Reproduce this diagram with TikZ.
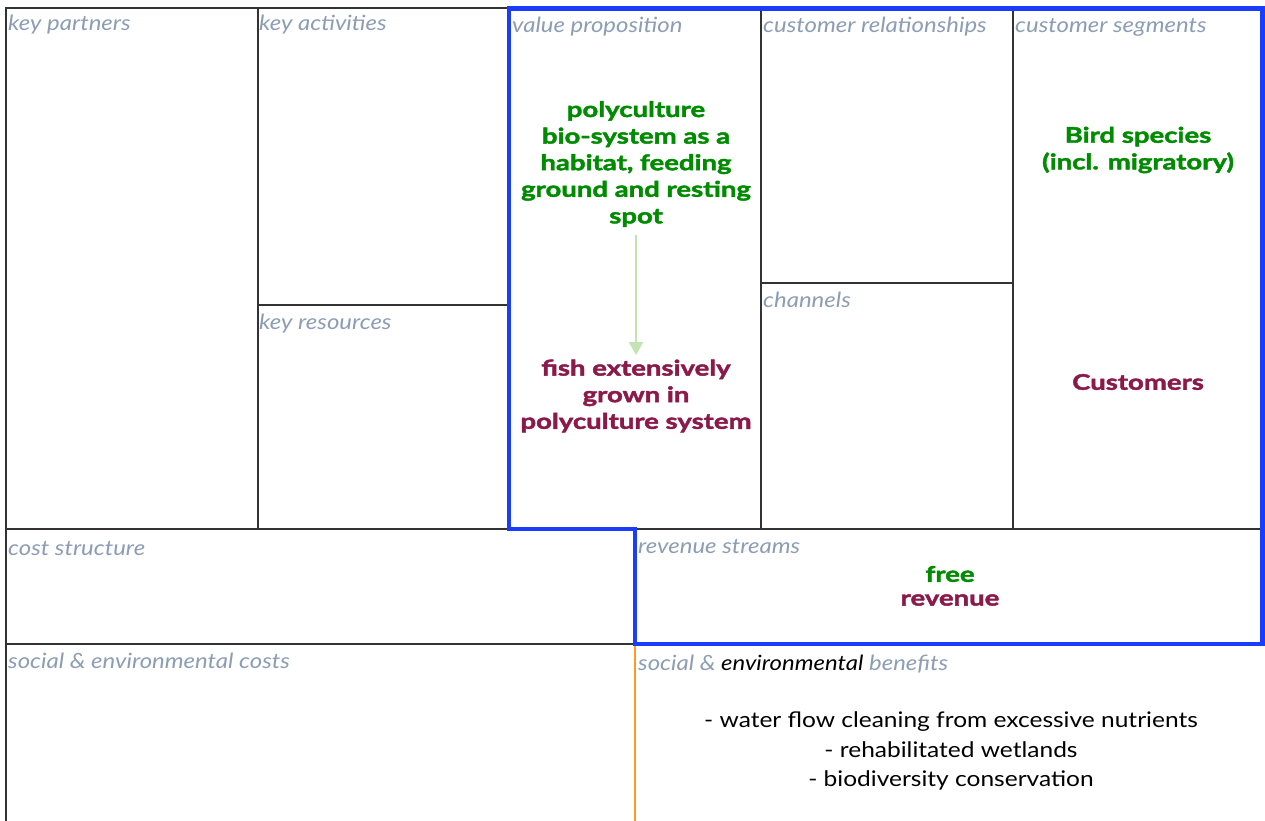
\documentclass[tikz,border=0pt]{standalone}
\usepackage{fontspec}
\setmainfont{Lato}[FakeStretch=1.14]
\newfontfamily\heavyfont{Lato}[FakeStretch=1.28, BoldFeatures={FakeBold=2}]
\usetikzlibrary{arrows.meta}
\definecolor{labelgray}{HTML}{8C9DB5}
\definecolor{vpgreen}{HTML}{008C00}
\definecolor{maroon}{HTML}{8B1A4B}
\definecolor{frameblue}{HTML}{1A3CFF}
\definecolor{gridline}{HTML}{333333}
\definecolor{arrowgreen}{HTML}{C5E3B2}
\definecolor{benefitorange}{HTML}{FF9A1A}
\tikzset{
  grid/.style={draw=gridline, line width=1.2pt},
  cell/.style={anchor=base west, inner sep=0pt, text=labelgray,
    font=\fontsize{21}{25}\selectfont\itshape},
  boldtext/.style={align=center, inner sep=0pt,
    font=\heavyfont\fontsize{21.5}{26.6}\selectfont\bfseries},
  plaintext/.style={align=center, inner sep=0pt,
    font=\fontsize{21.5}{29.5}\selectfont},
}
\begin{document}
\begin{tikzpicture}[x=1pt,y=-1pt]
\useasboundingbox (0,0) rectangle (1265,821);
\fill[white] (0,0) rectangle (1265,821);

% canvas grid
\draw[grid] (509,8) -- (6,8) -- (6,821);
\draw[grid] (258,8) -- (258,529);
\draw[grid] (258,305) -- (509,305);
\draw[grid] (761,8) -- (761,529);
\draw[grid] (761,283) -- (1013,283);
\draw[grid] (1013,8) -- (1013,529);
\draw[grid] (6,529) -- (1263,529);
\draw[grid] (6,644) -- (635,644);

% outline of value proposition, segments and revenue
\draw[frameblue, line width=4.5pt, line join=miter]
  (509,529) -- (509,8.5) -- (1262.5,8.5) -- (1262.5,644) -- (635,644) -- (635,529) -- cycle;

% benefits divider
\draw[benefitorange, line width=2pt] (635,646) -- (635,821);

% block titles
\node[cell] (kp)  at (8,31)   {key partners};
\node[cell] (ka)  at (259,31) {key activities};
\node[cell] (vpl) at (512,33) {value proposition};
\node[cell] (crl) at (763,33) {customer relationships};
\node[cell] (csl) at (1015,33) {customer segments};
\node[cell] (kr)  at (259,329) {key resources};
\node[cell] (ch)  at (763,307) {channels};
\node[cell] (cs)  at (8,555)  {cost structure};
\node[cell] (rs)  at (638,553) {revenue streams};
\node[cell] (sec) at (8,668)  {social \& environmental costs};
\node[cell] (seb) at (638,670) {social \& {\color{black}environmental} benefits};

% value proposition content
\node[boldtext, text=vpgreen] (habitat) at (636,164)
  {polyculture\\bio-system as a\\habitat, feeding\\ground and resting\\spot};
\node[boldtext, text=maroon] (fish) at (636,396)
  {fish extensively\\grown in\\polyculture system};
\draw[arrowgreen, line width=2.5pt, -{Triangle[length=13pt,width=14pt]}]
  (habitat.south) ++(0,8) coordinate (a0) (a0) -- (fish.north |- 0,355) coordinate (a1);

% customer segments content
\node[boldtext, text=vpgreen] (birds) at (1138,150)
  {Bird species\\(incl. migratory)};
\node[boldtext, text=maroon] (cust) at (1138,382) {Customers};

% revenue streams content
\node[boldtext, text=vpgreen] (free) at (950,574) {free};
\node[boldtext, text=maroon] (rev) at (950,600) {revenue};

% social & environmental benefits content
\node[plaintext] (benefits) at (951,751)
  {- water flow cleaning from excessive nutrients\\- rehabilitated wetlands\\- biodiversity conservation};
\end{tikzpicture}
\end{document}
